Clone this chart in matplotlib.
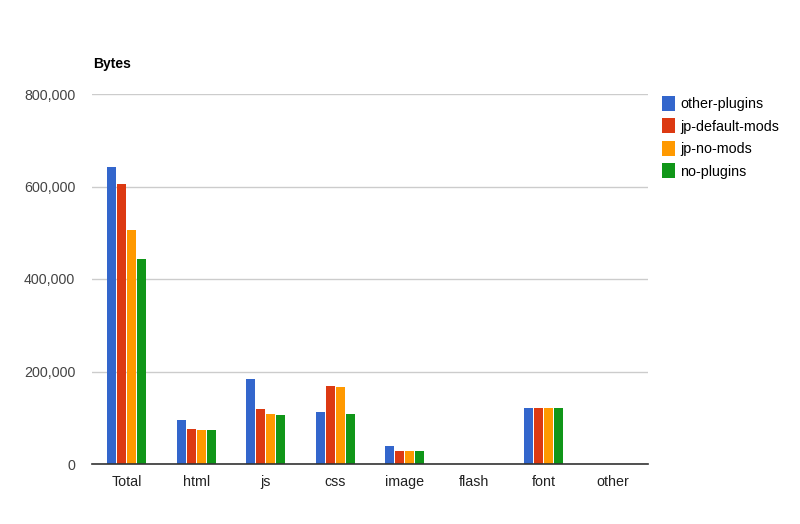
import numpy as np
import matplotlib
matplotlib.use("Agg")
import matplotlib.pyplot as plt
from matplotlib.ticker import FuncFormatter

plt.rcParams['font.family'] = ['Liberation Sans', 'DejaVu Sans']

# data
categories = ["Total", "html", "js", "css", "image", "flash", "font", "other"]
series_names = ["other-plugins", "jp-default-mods", "jp-no-mods", "no-plugins"]
other_plugins = [643000, 95000, 183000, 113000, 39500, 0, 121500, 0]
jp_default_mods = [606000, 75500, 119000, 169000, 28700, 0, 121500, 0]
jp_no_mods = [507000, 73000, 108000, 167000, 28700, 0, 121500, 0]
no_plugins = [444000, 73000, 106000, 108500, 28700, 0, 121500, 0]
colors = ["#3366cc", "#dc3912", "#ff9900", "#109618"]
y_ticks = [0, 200000, 400000, 600000, 800000]

fig = plt.figure(figsize=(8, 5.24), dpi=100)
ax = fig.add_axes([92/800, 1-464/524, 556/800, 370/524])

x = np.arange(len(categories))
bw = 0.13
step = 0.144
all_series = [other_plugins, jp_default_mods, jp_no_mods, no_plugins]
for i, (vals, name, c) in enumerate(zip(all_series, series_names, colors)):
    ax.bar(x + (i - 1.5) * step, vals, width=bw, color=c, label=name, zorder=3)

ax.set_xlim(-0.5, len(categories) - 0.5)
ax.set_ylim(0, 800000)
ax.set_yticks(y_ticks)
ax.yaxis.set_major_formatter(FuncFormatter(lambda v, p: "{:,.0f}".format(v)))
ax.set_xticks(x)
ax.set_xticklabels(categories)
ax.grid(axis='y', color='#cccccc', linewidth=1, zorder=0)
for s in ['left', 'right', 'top']:
    ax.spines[s].set_visible(False)
ax.spines['bottom'].set_color('#333333')
ax.spines['bottom'].set_linewidth(1.2)
ax.spines['bottom'].set_zorder(4)
ax.tick_params(axis='both', length=0, labelsize=10.3)
ax.tick_params(axis='y', pad=12, labelcolor='#444444')
ax.tick_params(axis='x', pad=8, labelcolor='#222222')

fig.text(93/800, 1-64/524, "Bytes", fontsize=10, fontweight='bold', va='center', ha='left')

leg = fig.legend(loc='upper left', bbox_to_anchor=(656/800, 1-90/524), frameon=False,
                 fontsize=10.3, handlelength=0.95, handleheight=1.25, handletextpad=0.35,
                 labelspacing=0.5, borderaxespad=0)

fig.savefig("out.png", dpi=100)
